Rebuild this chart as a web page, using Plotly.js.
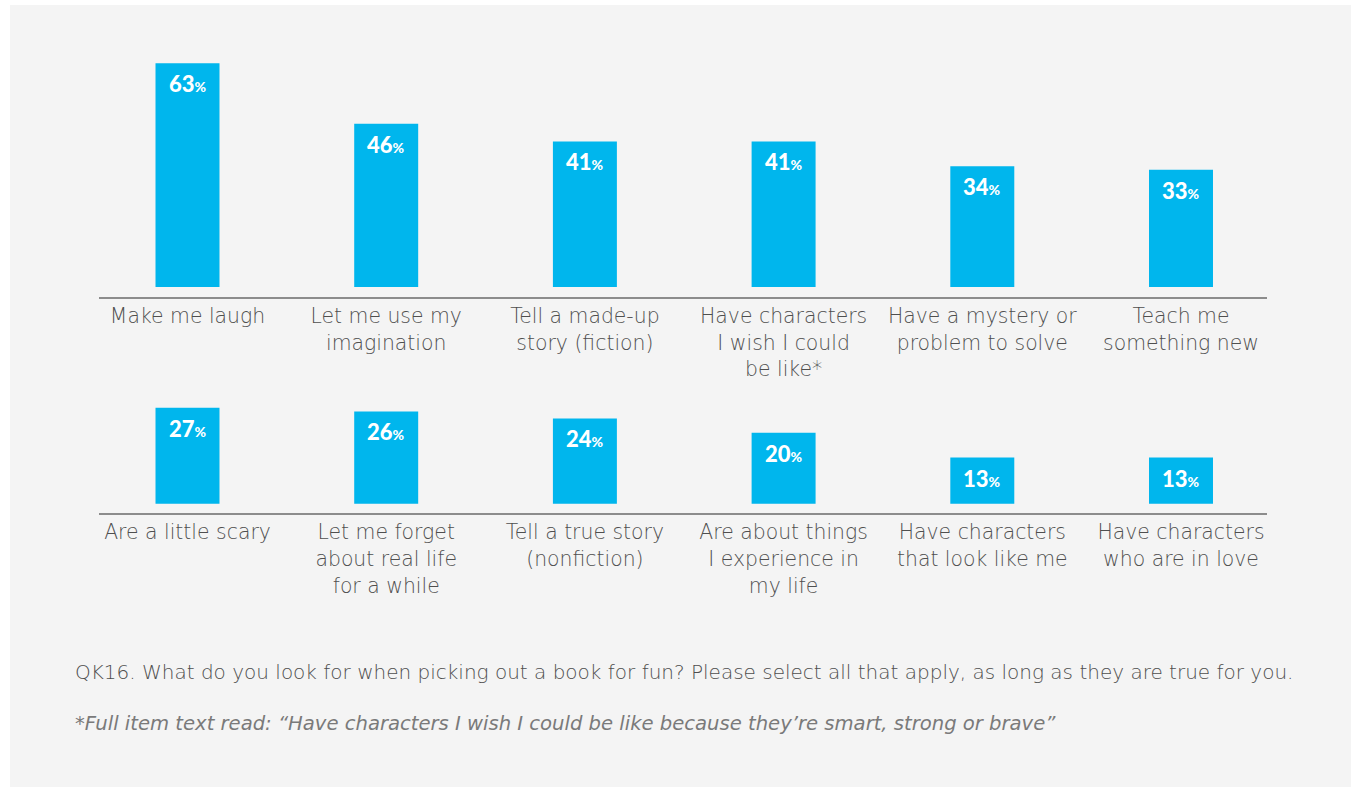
<!DOCTYPE html>
<html>
<head>
<meta charset="utf-8">
<script src="https://cdn.plot.ly/plotly-3.0.1.min.js"></script>
<style>
html,body{margin:0;padding:0;background:#ffffff;}
#chart{width:1351px;height:787px;}
</style>
</head>
<body>
<div id="chart"></div>
<script>
const topCategories = [
  "Make me laugh",
  "Let me use my<br>imagination",
  "Tell a made-up<br>story (fiction)",
  "Have characters<br>I wish I could<br>be like*",
  "Have a mystery or<br>problem to solve",
  "Teach me<br>something new"
];
const topValues = [63, 46, 41, 41, 34, 33];

const bottomCategories = [
  "Are a little scary",
  "Let me forget<br>about real life<br>for a while",
  "Tell a true story<br>(nonfiction)",
  "Are about things<br>I experience in<br>my life",
  "Have characters<br>that look like me",
  "Have characters<br>who are in love"
];
const bottomValues = [27, 26, 24, 20, 13, 13];

const questionText = "QK16. What do you look for when picking out a book for fun? Please select all that apply, as long as they are true for you.";
const footnoteText = "*Full item text read: \u201cHave characters I wish I could be like because they\u2019re smart, strong or brave\u201d";

const W = 1351, H = 787;
const BAR = "#00b6ed";
const TXT = "#4f4f4f";
const LABEL_FONT = "'DejaVu Sans', 'Open Sans', sans-serif";
const VALUE_FONT = "Lato, 'Open Sans', sans-serif";
const px = v => v / W;
const py = v => 1 - v / H;

// geometry (pixels)
const pxPerPct = 3.55;
const xLeft = 99, xRight = 1267, c0 = 187.5, step = 198.7;
const xr = [(xLeft - c0) / step, (xRight - c0) / step];

function rowY(axisPx, basePx, topPx) {
  return {
    domain: [py(axisPx), py(topPx)],
    range: [-(axisPx - basePx) / pxPerPct, (basePx - topPx) / pxPerPct]
  };
}
const r1 = rowY(296.5, 287, 50);
const r2 = rowY(513, 503.7, 395);

const barTrace = (cats, vals, xa, ya) => ({
  type: "bar",
  x: cats,
  y: vals,
  xaxis: xa,
  yaxis: ya,
  width: 0.322,
  marker: {color: BAR},
  hoverinfo: "skip",
  showlegend: false
});

const valueAnns = (cats, vals, xa, ya) => cats.map((c, i) => ({
  xref: xa, yref: ya,
  x: c, y: vals[i],
  text: vals[i] + '<span style="font-size:14px">%</span>',
  showarrow: false,
  yanchor: "top",
  yshift: -5,
  font: {family: VALUE_FONT, size: 22, color: "#ffffff", weight: 900}
}));

const xaxisBase = {
  type: "category",
  range: xr,
  domain: [px(xLeft), px(xRight)],
  showline: true,
  linecolor: "#8c8c8c",
  linewidth: 2,
  showgrid: false,
  zeroline: false,
  ticks: "",
  ticklabelstandoff: 0,
  tickfont: {family: LABEL_FONT, size: 20.4, color: TXT, weight: 300},
  fixedrange: true
};
const yaxisBase = {visible: false, showgrid: false, zeroline: false, fixedrange: true};

const data = [
  barTrace(topCategories, topValues, "x", "y"),
  barTrace(bottomCategories, bottomValues, "x2", "y2")
];

const layout = {
  width: W,
  height: H,
  margin: {l: 0, r: 0, t: 0, b: 0},
  paper_bgcolor: "#ffffff",
  plot_bgcolor: "rgba(0,0,0,0)",
  xaxis: Object.assign({}, xaxisBase, {anchor: "y"}),
  yaxis: Object.assign({}, yaxisBase, {domain: r1.domain, range: r1.range, anchor: "x"}),
  xaxis2: Object.assign({}, xaxisBase, {anchor: "y2"}),
  yaxis2: Object.assign({}, yaxisBase, {domain: r2.domain, range: r2.range, anchor: "x2"}),
  shapes: [{
    type: "rect", xref: "paper", yref: "paper", layer: "below",
    x0: px(10), x1: 1, y0: 0, y1: py(5),
    fillcolor: "#f4f4f4", line: {width: 0}
  }],
  annotations: [
    ...valueAnns(topCategories, topValues, "x", "y"),
    ...valueAnns(bottomCategories, bottomValues, "x2", "y2"),
    {
      xref: "paper", yref: "paper", x: px(73), y: py(672),
      xanchor: "left", yanchor: "middle", showarrow: false,
      text: questionText,
      font: {family: LABEL_FONT, size: 20, color: TXT, weight: 300}
    },
    {
      xref: "paper", yref: "paper", x: px(73), y: py(723),
      xanchor: "left", yanchor: "middle", showarrow: false,
      text: "<i>" + footnoteText + "</i>",
      font: {family: LABEL_FONT, size: 19.6, color: "#7a7a7a", weight: 300}
    }
  ]
};

Plotly.newPlot("chart", data, layout, {displayModeBar: false, staticPlot: true});
</script>
</body>
</html>
